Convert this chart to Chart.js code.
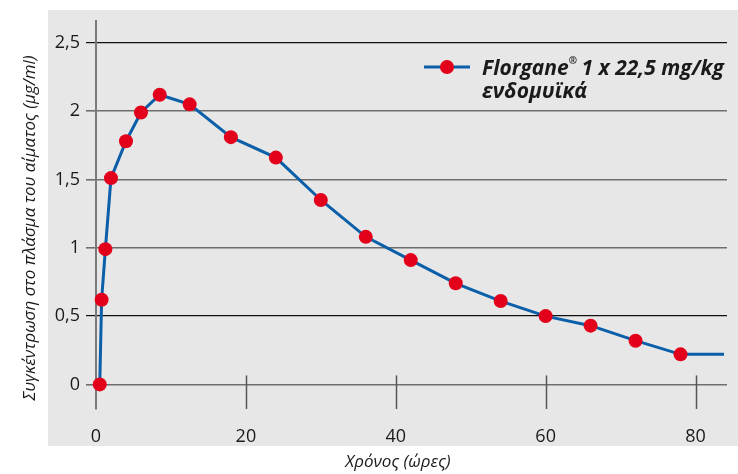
<!DOCTYPE html>
<html lang="el">
<head>
<meta charset="utf-8">
<title>Florgane</title>
<script src="https://cdn.jsdelivr.net/npm/chart.js@4.4.1/dist/chart.umd.min.js"></script>
<style>
html,body{margin:0;padding:0;background:#fff;}
#wrap{width:738px;height:474px;position:relative;}
</style>
</head>
<body>
<div id="wrap"><canvas id="c" width="738" height="474"></canvas></div>
<script>
/* data */
const hours = [0.5, 0.75, 1.25, 2, 4, 6, 8.5, 12.5, 18, 24, 30, 36, 42, 48, 54, 60, 66, 72, 78, 83.8];
const conc  = [0, 0.62, 0.99, 1.51, 1.78, 1.99, 2.12, 2.05, 1.81, 1.66, 1.35, 1.08, 0.91, 0.74, 0.61, 0.50, 0.43, 0.32, 0.22, 0.22];
// last point only carries the line on to the edge, no marker
const hasMarker = [1,1,1,1,1,1,1,1,1,1,1,1,1,1,1,1,1,1,1,0];
const yTicks = [0, 0.5, 1, 1.5, 2, 2.5];
const yTickLabels = ["0", "0,5", "1", "1,5", "2", "2,5"];
const yGridDark = [false, true, false, false, false, true];
const xTicks = [0, 20, 40, 60, 80];
const xTickLabels = ["0", "20", "40", "60", "80"];
const seriesLabel = ["Florgane® 1 x 22,5 mg/kg", "ενδομυϊκά"];
const yTitle = "Συγκέντρωση στο πλάσμα του αίματος (μg/ml)";
const xTitle = "Χρόνος (ώρες)";

const BLUE = "#0b5ea8", RED = "#e2001a", PANEL = "#e7e7e7";
const FONT = "'Open Sans', 'Noto Sans', sans-serif";

const panel = {
  id: "panel",
  beforeDraw(ch){
    const c = ch.ctx; c.save();
    c.fillStyle = PANEL; c.fillRect(48, 10, 690, 436);
    c.restore();
  }
};

// small vertical ticks on the zero line
const xMarks = {
  id: "xMarks",
  afterDatasetsDraw(ch){
    const c = ch.ctx, xs = ch.scales.x, ys = ch.scales.y;
    const y0 = ys.getPixelForValue(0);
    c.save(); c.strokeStyle = "#555"; c.lineWidth = 1.5;
    xTicks.slice(1).forEach(v=>{
      const x = Math.round(xs.getPixelForValue(v)) + 0.5;
      c.beginPath(); c.moveTo(x, y0 - 9); c.lineTo(x, ch.chartArea.bottom); c.stroke();
    });
    c.restore();
  }
};

const titles = {
  id: "titles",
  afterDraw(ch){
    const c = ch.ctx; c.save();
    c.fillStyle = "#1a1a1a";
    c.font = "italic 17px " + FONT;
    c.textAlign = "center"; c.textBaseline = "middle";
    c.fillText(xTitle, 398, 462);
    c.translate(30, 228); c.rotate(-Math.PI/2);
    c.fillText(yTitle, 0, 0);
    c.restore();
  }
};

const legendBox = {
  id: "legendBox",
  afterDraw(ch){
    const c = ch.ctx, ds = ch.data.datasets[0];
    c.save();
    c.strokeStyle = ds.borderColor; c.lineWidth = 3;
    c.beginPath(); c.moveTo(424, 67); c.lineTo(470, 67); c.stroke();
    c.fillStyle = ds.pointBackgroundColor;
    c.beginPath(); c.arc(447, 67, 7, 0, Math.PI*2); c.fill();
    c.fillStyle = "#1a1a1a"; c.textBaseline = "alphabetic";
    const big = "italic bold 21px " + FONT, sup = "italic bold 10px " + FONT;
    const parts = seriesLabel[0].split("®");
    let x = 482;
    c.font = big; c.fillText(parts[0], x, 75); x += c.measureText(parts[0]).width;
    c.font = sup; c.fillText("®", x, 64); x += c.measureText("®").width - 1;
    c.font = big; c.fillText(parts[1], x, 75);
    c.fillText(seriesLabel[1], 482, 98);
    c.restore();
  }
};

new Chart(document.getElementById("c"), {
  type: "line",
  data: {
    datasets: [{
      label: seriesLabel.join(" "),
      data: hours.map((h,i)=>({x:h, y:conc[i]})),
      borderColor: BLUE,
      borderWidth: 3,
      tension: 0,
      pointBackgroundColor: RED,
      pointBorderColor: RED,
      pointRadius: hasMarker.map(m=>m ? 7 : 0),
      pointBorderWidth: 0,
      clip: false
    }]
  },
  options: {
    responsive: false,
    animation: false,
    events: [],
    layout: {padding: {left: 0, top: 21, right: 11, bottom: 0}},
    plugins: {legend: {display: false}, tooltip: {enabled: false}},
    scales: {
      x: {
        type: "linear", min: 0, max: 84.2,
        afterBuildTicks(s){ s.ticks = xTicks.map(v=>({value:v})); },
        afterFit(s){ s.height = 65; },
        grid: {display: false},
        border: {display: false},
        ticks: {
          padding: 9,
          color: "#1a1a1a",
          font: {family: FONT, size: 18},
          callback: (v)=> xTickLabels[xTicks.indexOf(v)]
        }
      },
      y: {
        min: -0.18, max: 2.66,
        afterBuildTicks(s){ s.ticks = yTicks.map(v=>({value:v})); },
        afterFit(s){ s.width = 96; },
        border: {display: true, color: "#7a7a7a", width: 2},
        grid: {
          color: (ctx)=> yGridDark[yTicks.indexOf(ctx.tick && ctx.tick.value)] ? "#111" : "#6e6e6e",
          lineWidth: (ctx)=> yGridDark[yTicks.indexOf(ctx.tick && ctx.tick.value)] ? 1.2 : 1.6,
          tickLength: 10
        },
        ticks: {
          padding: 6,
          color: "#1a1a1a",
          font: {family: FONT, size: 18},
          callback: (v)=> yTickLabels[yTicks.indexOf(v)]
        }
      }
    }
  },
  plugins: [panel, xMarks, titles, legendBox]
});
</script>
</body>
</html>
